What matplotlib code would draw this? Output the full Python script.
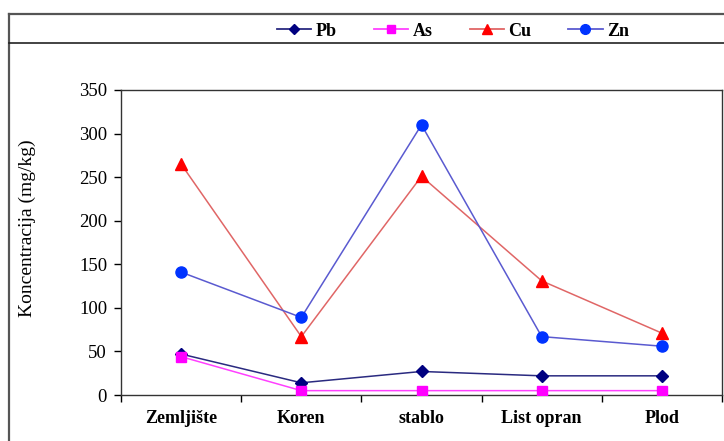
import matplotlib
matplotlib.use("Agg")
import matplotlib.pyplot as plt
from matplotlib.lines import Line2D
import numpy as np

categories = ["Zemljište", "Koren", "stablo", "List opran", "Plod"]
pb = [47, 14, 27, 22, 22]
as_ = [44, 5, 5, 5, 5]
cu = [265, 67, 251, 131, 71]
zn = [141, 89, 310, 67, 56]
y_ticks = [0, 50, 100, 150, 200, 250, 300, 350]

W, H = 724, 441
fig = plt.figure(figsize=(W / 100, H / 100), dpi=100)
plt.rcParams["font.family"] = ["Liberation Serif", "DejaVu Serif"]

def fx(px):
    return px / W

def fy(py):
    return 1 - py / H

ax = fig.add_axes([fx(121), fy(395), fx(722) - fx(121), fy(90) - fy(395)])

x = np.arange(len(categories))
series = [
    ("Pb", pb, "#000080", "#2a2a80", "D", 6),
    ("As", as_, "#ff00ff", "#ff40ff", "s", 7),
    ("Cu", cu, "#ff0000", "#e06666", "^", 8),
    ("Zn", zn, "#0033ff", "#5a5ad0", "o", 8),
]
handles = []
for name, vals, mcol, lcol, mk, ms in series:
    ax.plot(x, vals, color=lcol, lw=1.1, marker=mk, ms=ms,
            markerfacecolor=mcol, markeredgecolor=mcol, zorder=3)
    handles.append(Line2D([], [], color=lcol, lw=1.3, marker=mk, ms=ms - 1,
                          markerfacecolor=mcol, markeredgecolor=mcol))

ax.set_xlim(-0.5, len(categories) - 0.5)
ax.set_ylim(0, 350)
ax.set_yticks(y_ticks)
ax.set_yticklabels([str(v) for v in y_ticks], fontsize=13.5)
ax.set_xticks(x)
ax.set_xticklabels(categories, fontsize=13, fontweight="bold")
ax.tick_params(axis="x", length=0, pad=11)
ax.set_xticks(np.arange(-0.5, len(categories)), minor=True)
ax.tick_params(axis="x", which="minor", length=5, direction="out", width=1)
ax.tick_params(axis="y", length=5, direction="out", width=1, pad=5)
for s in ax.spines.values():
    s.set_color("#333333")
    s.set_linewidth(1.0)

fig.text(fx(27), fy(228), "Koncentracija (mg/kg)", rotation=90, fontsize=14,
         ha="center", va="center")

# outer frame and legend band
fig.add_artist(Line2D([fx(9), fx(9)], [fy(14), fy(445)], color="#555555", lw=1.6))
fig.add_artist(Line2D([fx(9), fx(730)], [fy(14), fy(14)], color="#555555", lw=1.6))
fig.add_artist(Line2D([fx(9), fx(730)], [fy(43), fy(43)], color="#222222", lw=1.2))

fig.legend(handles, ["Pb", "As", "Cu", "Zn"], loc="center",
           bbox_to_anchor=(fx(453), fy(31)), ncol=4, frameon=False,
           prop={"size": 13, "weight": "bold"}, handlelength=1.9,
           handletextpad=0.25, columnspacing=2.05)

fig.savefig("out.png", dpi=100)
